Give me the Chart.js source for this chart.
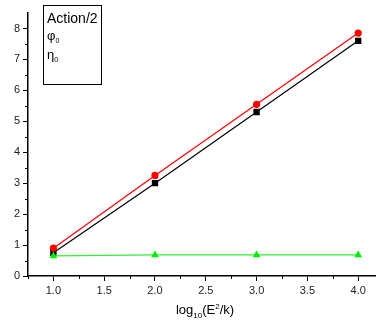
<!DOCTYPE html>
<html>
<head>
<meta charset="utf-8">
<script src="https://cdn.jsdelivr.net/npm/chart.js@4.4.0/dist/chart.umd.min.js"></script>
<style>
  html, body { margin: 0; padding: 0; background: #fff; overflow: hidden; }
  #wrap { width: 376px; height: 323px; position: relative; overflow: hidden; }
</style>
</head>
<body>
<div id="wrap"><canvas id="c" width="382" height="323"></canvas></div>
<script>
const xValues = [1.0, 2.0, 3.0, 4.0];
const actionHalf = [0.75, 3.0, 5.3, 7.6];
const phi0 = [0.9, 3.25, 5.55, 7.85];
const eta0 = [0.65, 0.68, 0.68, 0.68];
const xTicks = [1.0, 1.5, 2.0, 2.5, 3.0, 3.5, 4.0];
const yTicks = [0, 1, 2, 3, 4, 5, 6, 7, 8];

const FONT = "'Liberation Sans', Arial, sans-serif";
const toPts = arr => arr.map((y, i) => ({ x: xValues[i], y }));

// minor ticks + legend text + axis title with sub/superscripts
const extras = {
    id: 'extras',
    afterDraw(chart) {
        const { ctx, scales } = chart;
        const xs = scales.x, ys = scales.y;
        ctx.save();
        ctx.strokeStyle = '#000';
        ctx.lineWidth = 1;
        // minor ticks
        for (let v = 0.5; v < 8.5; v += 1) {
            const py = Math.round(ys.getPixelForValue(v)) + 0.5;
            ctx.beginPath();
            ctx.moveTo(xs.left - 3, py);
            ctx.lineTo(xs.left, py);
            ctx.stroke();
        }
        for (let v = 0.75; v < 4.2; v += 0.5) {
            const px = Math.round(xs.getPixelForValue(v)) + 0.5;
            ctx.beginPath();
            ctx.moveTo(px, ys.bottom);
            ctx.lineTo(px, ys.bottom + 3);
            ctx.stroke();
        }

        // legend box
        ctx.lineWidth = 1;
        ctx.strokeRect(43.5, 5.5, 58, 79);
        ctx.fillStyle = '#000';
        ctx.textBaseline = 'alphabetic';
        ctx.textAlign = 'left';
        ctx.font = '14px ' + FONT;
        ctx.fillText(chart.data.datasets[2].label, 47, 23);
        const sym = [['φ', 40], ['η', 59]];
        sym.forEach(([s, y]) => {
            ctx.font = '13px ' + FONT;
            ctx.fillText(s, 47, y);
            const w = ctx.measureText(s).width;
            ctx.font = '7px ' + FONT;
            ctx.fillText('0', 47 + w, y + 3);
        });

        // x axis title
        const parts = [
            ['log', 13, 0], ['10', 8, 4], ['(E', 13, 0], ['2', 8, -5], ['/k)', 13, 0]
        ];
        let total = 0;
        parts.forEach(([t, s]) => { ctx.font = s + 'px ' + FONT; total += ctx.measureText(t).width; });
        let x = 205 - total / 2;
        const base = 314;
        parts.forEach(([t, s, dy]) => {
            ctx.font = s + 'px ' + FONT;
            ctx.fillText(t, x, base + dy);
            x += ctx.measureText(t).width;
        });
        ctx.restore();
    }
};

new Chart(document.getElementById('c'), {
    type: 'line',
    data: {
        datasets: [
            {
                label: 'η0',
                data: toPts(eta0),
                borderColor: '#33ee33',
                backgroundColor: '#00ee00',
                borderWidth: 1.2,
                pointStyle: 'triangle',
                pointRadius: 4.5,
                pointBorderWidth: 0
            },
            {
                label: 'φ0',
                data: toPts(phi0),
                borderColor: '#ff0000',
                backgroundColor: '#ff0000',
                borderWidth: 1.2,
                pointStyle: 'circle',
                pointRadius: 3.6,
                pointBorderWidth: 0
            },
            {
                label: 'Action/2',
                data: toPts(actionHalf),
                borderColor: '#000000',
                backgroundColor: '#000000',
                borderWidth: 1.2,
                pointStyle: 'rect',
                pointRadius: 4.5,
                pointBorderWidth: 0
            }
        ]
    },
    options: {
        responsive: false,
        animation: false,
        layout: { padding: { top: 13, right: 0, left: 0, bottom: 0 } },
        plugins: { legend: { display: false }, tooltip: { enabled: false } },
        scales: {
            x: {
                type: 'linear',
                min: 0.75,
                max: 4.19,
                afterBuildTicks: s => { s.ticks = xTicks.map(v => ({ value: v })); },
                afterFit: s => { s.height = 47; },
                grid: { drawOnChartArea: false, drawTicks: true, tickLength: 5, color: '#000', lineWidth: 1 },
                border: { color: '#000', width: 1.5 },
                ticks: {
                    color: '#222',
                    font: { family: FONT, size: 11 },
                    padding: 3,
                    maxRotation: 0,
                    callback: v => v.toFixed(1)
                }
            },
            y: {
                min: 0,
                max: 8.5,
                afterBuildTicks: s => { s.ticks = yTicks.map(v => ({ value: v })); },
                afterFit: s => { s.width = 28; },
                grid: { drawOnChartArea: false, drawTicks: true, tickLength: 5, color: '#000', lineWidth: 1 },
                border: { color: '#000', width: 1.5 },
                ticks: {
                    color: '#222',
                    font: { family: FONT, size: 11 },
                    padding: 3,
                    callback: v => String(v)
                }
            }
        }
    },
    plugins: [extras]
});
</script>
</body>
</html>
